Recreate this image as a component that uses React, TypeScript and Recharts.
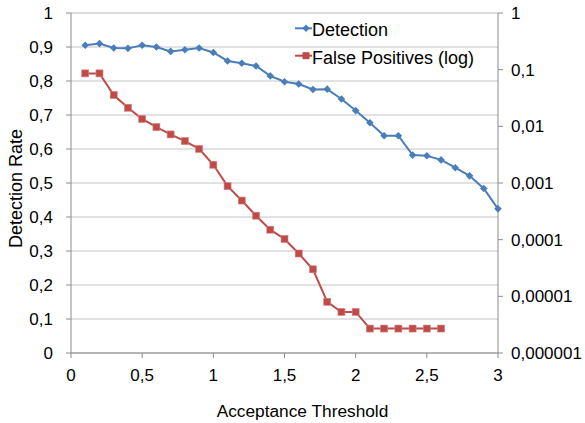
import React from 'react';
import { LineChart, Line, XAxis, YAxis, CartesianGrid, Legend } from 'recharts';

const thresholds = [0.1, 0.2, 0.3, 0.4, 0.5, 0.6, 0.7, 0.8, 0.9, 1.0, 1.1, 1.2, 1.3, 1.4, 1.5, 1.6, 1.7, 1.8, 1.9, 2.0, 2.1, 2.2, 2.3, 2.4, 2.5, 2.6, 2.7, 2.8, 2.9, 3.0];
const detection = [0.905, 0.91, 0.897, 0.896, 0.905, 0.9, 0.887, 0.892, 0.897, 0.884, 0.859, 0.852, 0.844, 0.815, 0.798, 0.791, 0.775, 0.776, 0.747, 0.713, 0.677, 0.639, 0.639, 0.582, 0.58, 0.568, 0.545, 0.521, 0.484, 0.424];
const falsePositives = [0.086, 0.086, 0.0357, 0.0213, 0.0135, 0.0097, 0.0072, 0.0055, 0.004, 0.0021, 0.00088, 0.00049, 0.000265, 0.00015, 0.000103, 0.000057, 0.00003, 0.000008, 0.0000053, 0.0000053, 0.0000027, 0.0000027, 0.0000027, 0.0000027, 0.0000027, 0.0000027];

const xTicks = [0, 0.5, 1, 1.5, 2, 2.5, 3];
const leftTicks = [0, 0.1, 0.2, 0.3, 0.4, 0.5, 0.6, 0.7, 0.8, 0.9, 1];
const minorTicks = [0, 0.02, 0.04, 0.06, 0.08, 0.1, 0.12, 0.14, 0.16, 0.18, 0.2, 0.22, 0.24, 0.26, 0.28, 0.3, 0.32, 0.34, 0.36, 0.38, 0.4, 0.42, 0.44, 0.46, 0.48, 0.5, 0.52, 0.54, 0.56, 0.58, 0.6, 0.62, 0.64, 0.66, 0.68, 0.7, 0.72, 0.74, 0.76, 0.78, 0.8, 0.82, 0.84, 0.86, 0.88, 0.9, 0.92, 0.94, 0.96, 0.98, 1];
const rightTicks = [0.000001, 0.00001, 0.0001, 0.001, 0.01, 0.1, 1];

const data = thresholds.map((t, i) => ({
  x: t,
  detection: detection[i],
  fp: i < falsePositives.length ? falsePositives[i] : undefined,
}));

const BLUE = '#4a7ebb';
const RED = '#be4b48';
const FONT = '"Liberation Sans", Arial, sans-serif';
const fmt = (v: number) => String(v).replace('.', ',');

const Diamond = (props: any) => {
  const { cx, cy, index } = props;
  if (cx == null || cy == null) return <g key={`d${index}`} />;
  return <path key={`d${index}`} d={`M${cx},${cy - 3.8}L${cx + 3.8},${cy}L${cx},${cy + 3.8}L${cx - 3.8},${cy}Z`} fill={BLUE} />;
};
const Square = (props: any) => {
  const { cx, cy, index, value } = props;
  if (cx == null || cy == null || value == null) return <g key={`s${index}`} />;
  return <rect key={`s${index}`} x={cx - 3.5} y={cy - 3.5} width={7} height={7} fill={RED} stroke="#d8807e" strokeWidth={0.6} />;
};

const LegendBox = () => (
  <svg width={210} height={60} style={{ display: 'block' }}>
    <line x1={5} y1={18.3} x2={22} y2={18.3} stroke={BLUE} strokeWidth={2} />
    <path d="M16,14.5L19.8,18.3L16,22.1L12.2,18.3Z" fill={BLUE} />
    <text x={22} y={26} fontSize={18} fontFamily={FONT} fill="#000">Detection</text>
    <line x1={5} y1={45.7} x2={22} y2={45.7} stroke={RED} strokeWidth={2} />
    <rect x={12.5} y={42.2} width={7} height={7} fill={RED} />
    <text x={22} y={54.3} fontSize={18} fontFamily={FONT} fill="#000">False Positives (log)</text>
  </svg>
);

const YLabel = () => (
  <text x={21.5} y={188.5} transform="rotate(-90 21.5 188.5)" textAnchor="middle" fontSize={18} fontFamily={FONT} fill="#000">
    Detection Rate
  </text>
);

export default function App() {
  return (
    <div style={{ position: 'absolute', left: 0, top: 0, width: 585, height: 423, background: '#fff' }}>
      <LineChart width={585} height={423} data={data} margin={{ top: 13, right: 0, bottom: 0, left: 0 }}>
        <CartesianGrid yAxisId="minor" vertical={false} stroke="#ebebeb" strokeWidth={1} />
        <CartesianGrid yAxisId="left" vertical={false} stroke="#c4c4c4" strokeWidth={1} />
        <XAxis
          dataKey="x"
          type="number"
          domain={[0, 3]}
          ticks={xTicks}
          tickFormatter={fmt}
          height={70}
          stroke="#8c8c8c"
          tickSize={5}
          tickMargin={11}
          tick={{ fill: '#000', fontSize: 17, fontFamily: FONT }}
          label={{ value: 'Acceptance Threshold', position: 'insideBottom', offset: 6, dx: 18, fill: '#000', fontSize: 17.3, fontFamily: FONT }}
        />
        <YAxis yAxisId="minor" hide domain={[0, 1]} ticks={minorTicks} type="number" />
        <YAxis
          yAxisId="left"
          domain={[0, 1]}
          ticks={leftTicks}
          tickFormatter={fmt}
          width={71}
          stroke="#8c8c8c"
          tickSize={5}
          tickMargin={13}
          interval={0}
          tick={{ fill: '#000', fontSize: 17, fontFamily: FONT }}
          label={<YLabel />}
        />
        <YAxis
          yAxisId="right"
          orientation="right"
          scale="log"
          domain={[0.000001, 1]}
          ticks={rightTicks}
          tickFormatter={fmt}
          width={87}
          stroke="#8c8c8c"
          tickSize={5}
          tickMargin={8}
          interval={0}
          allowDataOverflow
          tick={{ fill: '#000', fontSize: 17, fontFamily: FONT, textAnchor: 'start' }}
        />
        <Legend
          layout="horizontal"
          verticalAlign="middle"
          align="center"
          content={<LegendBox />}
          wrapperStyle={{ position: 'absolute', left: 290, top: 10, width: 210, height: 60 }}
        />
        <Line
          yAxisId="left"
          dataKey="detection"
          stroke={BLUE}
          strokeWidth={2}
          dot={Diamond}
          activeDot={false}
          isAnimationActive={false}
        />
        <Line
          yAxisId="right"
          dataKey="fp"
          stroke={RED}
          strokeWidth={2}
          dot={Square}
          activeDot={false}
          isAnimationActive={false}
        />
      </LineChart>
    </div>
  );
}
